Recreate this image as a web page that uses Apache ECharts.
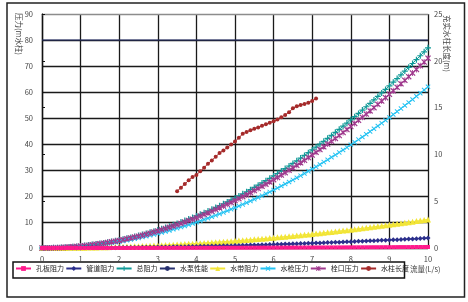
<!DOCTYPE html>
<html><head><meta charset="utf-8">
<script src="https://cdn.jsdelivr.net/npm/echarts@6/dist/echarts.min.js"></script>
<style>html,body{margin:0;padding:0;background:#fff}#c{width:468px;height:302px}</style>
</head><body><div id="c"></div><script>
const flow = [0,0.1,0.2,0.3,0.4,0.5,0.6,0.7,0.8,0.9,1,1.1,1.2,1.3,1.4,1.5,1.6,1.7,1.8,1.9,2,2.1,2.2,2.3,2.4,2.5,2.6,2.7,2.8,2.9,3,3.1,3.2,3.3,3.4,3.5,3.6,3.7,3.8,3.9,4,4.1,4.2,4.3,4.4,4.5,4.6,4.7,4.8,4.9,5,5.1,5.2,5.3,5.4,5.5,5.6,5.7,5.8,5.9,6,6.1,6.2,6.3,6.4,6.5,6.6,6.7,6.8,6.9,7,7.1,7.2,7.3,7.4,7.5,7.6,7.7,7.8,7.9,8,8.1,8.2,8.3,8.4,8.5,8.6,8.7,8.8,8.9,9,9.1,9.2,9.3,9.4,9.5,9.6,9.7,9.8,9.9,10];
const orificeLoss = [0,0,0,0,0,0,0,0,0,0,0,0,0.01,0.01,0.01,0.01,0.01,0.01,0.01,0.01,0.02,0.02,0.02,0.02,0.02,0.03,0.03,0.03,0.03,0.03,0.04,0.04,0.04,0.04,0.05,0.05,0.05,0.05,0.06,0.06,0.06,0.07,0.07,0.07,0.08,0.08,0.08,0.09,0.09,0.10,0.10,0.10,0.11,0.11,0.12,0.12,0.13,0.13,0.13,0.14,0.14,0.15,0.15,0.16,0.16,0.17,0.17,0.18,0.18,0.19,0.20,0.20,0.21,0.21,0.22,0.23,0.23,0.24,0.24,0.25,0.26,0.26,0.27,0.28,0.28,0.29,0.30,0.30,0.31,0.32,0.32,0.33,0.34,0.35,0.35,0.36,0.37,0.38,0.38,0.39,0.40];
const pipeLoss = [0,0,0,0,0.01,0.01,0.01,0.02,0.02,0.03,0.04,0.05,0.05,0.06,0.07,0.09,0.10,0.11,0.12,0.14,0.15,0.17,0.18,0.20,0.22,0.24,0.26,0.28,0.30,0.32,0.34,0.37,0.39,0.41,0.44,0.47,0.49,0.52,0.55,0.58,0.61,0.64,0.67,0.70,0.74,0.77,0.80,0.84,0.88,0.91,0.95,0.99,1.03,1.07,1.11,1.15,1.19,1.23,1.28,1.32,1.37,1.41,1.46,1.51,1.56,1.61,1.66,1.71,1.76,1.81,1.86,1.92,1.97,2.02,2.08,2.14,2.19,2.25,2.31,2.37,2.43,2.49,2.56,2.62,2.68,2.75,2.81,2.88,2.94,3.01,3.08,3.15,3.22,3.29,3.36,3.43,3.50,3.58,3.65,3.72,3.80];
const totalLoss = [0,0.01,0.03,0.07,0.12,0.19,0.28,0.38,0.49,0.62,0.77,0.93,1.11,1.30,1.51,1.73,1.97,2.23,2.49,2.78,3.08,3.40,3.73,4.07,4.44,4.81,5.21,5.61,6.04,6.48,6.93,7.40,7.88,8.39,8.90,9.43,9.98,10.54,11.12,11.71,12.32,12.94,13.58,14.24,14.91,15.59,16.29,17.01,17.74,18.49,19.25,20.03,20.82,21.63,22.45,23.29,24.15,25.02,25.90,26.80,27.72,28.65,29.60,30.56,31.54,32.53,33.54,34.57,35.60,36.66,37.73,38.82,39.92,41.03,42.17,43.31,44.48,45.65,46.85,48.06,49.28,50.52,51.77,53.05,54.33,55.63,56.95,58.28,59.63,60.99,62.37,63.76,65.17,66.60,68.04,69.49,70.96,72.45,73.95,75.47,77.00];
const pumpFlow = [0,10];
const pumpHead = [80,80];
const hoseLoss = [0,0,0,0.01,0.02,0.03,0.04,0.05,0.07,0.09,0.11,0.13,0.16,0.19,0.22,0.25,0.28,0.32,0.36,0.40,0.44,0.49,0.53,0.58,0.63,0.69,0.74,0.80,0.86,0.93,0.99,1.06,1.13,1.20,1.27,1.35,1.43,1.51,1.59,1.67,1.76,1.85,1.94,2.03,2.13,2.23,2.33,2.43,2.53,2.64,2.75,2.86,2.97,3.09,3.21,3.33,3.45,3.57,3.70,3.83,3.96,4.09,4.23,4.37,4.51,4.65,4.79,4.94,5.09,5.24,5.39,5.55,5.70,5.86,6.02,6.19,6.35,6.52,6.69,6.87,7.04,7.22,7.40,7.58,7.76,7.95,8.14,8.33,8.52,8.71,8.91,9.11,9.31,9.51,9.72,9.93,10.14,10.35,10.56,10.78,11.00];
const nozzlePressure = [0,0.01,0.02,0.06,0.10,0.16,0.22,0.30,0.40,0.50,0.62,0.75,0.89,1.05,1.22,1.40,1.59,1.79,2.01,2.24,2.48,2.73,3.00,3.28,3.57,3.88,4.19,4.52,4.86,5.21,5.58,5.96,6.35,6.75,7.17,7.60,8.04,8.49,8.95,9.43,9.92,10.42,10.94,11.46,12.00,12.56,13.12,13.70,14.28,14.89,15.50,16.13,16.76,17.42,18.08,18.76,19.44,20.14,20.86,21.58,22.32,23.07,23.83,24.61,25.40,26.20,27.01,27.83,28.67,29.52,30.38,31.25,32.14,33.04,33.95,34.88,35.81,36.76,37.72,38.69,39.68,40.68,41.69,42.71,43.75,44.80,45.86,46.93,48.01,49.11,50.22,51.34,52.48,53.62,54.78,55.96,57.14,58.34,59.54,60.77,62.00];
const hydrantPressure = [0,0.01,0.03,0.07,0.12,0.18,0.26,0.36,0.47,0.59,0.73,0.88,1.05,1.23,1.43,1.64,1.87,2.11,2.37,2.64,2.92,3.22,3.53,3.86,4.20,4.56,4.93,5.32,5.72,6.14,6.57,7.02,7.48,7.95,8.44,8.94,9.46,9.99,10.54,11.10,11.68,12.27,12.88,13.50,14.13,14.78,15.45,16.13,16.82,17.53,18.25,18.99,19.74,20.51,21.29,22.08,22.89,23.72,24.56,25.41,26.28,27.16,28.06,28.97,29.90,30.84,31.80,32.77,33.76,34.76,35.77,36.80,37.84,38.90,39.97,41.06,42.16,43.28,44.41,45.56,46.72,47.90,49.09,50.29,51.51,52.74,53.99,55.25,56.53,57.82,59.13,60.45,61.79,63.14,64.50,65.88,67.28,68.69,70.11,71.55,73.00];
const jetFlow = [3.5,3.6,3.7,3.8,3.9,4,4.1,4.2,4.3,4.4,4.5,4.6,4.7,4.8,4.9,5,5.1,5.2,5.3,5.4,5.5,5.6,5.7,5.8,5.9,6,6.1,6.2,6.3,6.4,6.5,6.6,6.7,6.8,6.9,7,7.1];
const jetLength = [6.06,6.45,6.84,7.23,7.59,7.80,8.19,8.58,9.01,9.36,9.75,10.14,10.43,10.74,11.06,11.38,11.77,12.2,12.38,12.59,12.73,12.87,13.05,13.23,13.37,13.55,13.72,13.97,14.22,14.5,14.93,15.14,15.29,15.39,15.53,15.71,15.96];
const seriesNames = ['孔板阻力','管道阻力','总阻力','水泵性能','水带阻力','水枪压力','栓口压力','水柱长度'];
const xTicks = [0,1,2,3,4,5,6,7,8,9,10];

const pair = (xa, ya) => xa.map((x, i) => [x, ya[i]]);
const PLUS = 'path://M4,0H6V4H10V6H6V10H4V6H0V4H4Z';
const CROSS = 'path://M0,1.4L1.4,0L5,3.6L8.6,0L10,1.4L6.4,5L10,8.6L8.6,10L5,6.4L1.4,10L0,8.6L3.6,5Z';
const STAR = 'path://M0,1.4L1.4,0L5,3.6L8.6,0L10,1.4L6.4,5L10,8.6L8.6,10L5,6.4L1.4,10L0,8.6L3.6,5Z M4.3,0H5.7V10H4.3Z';
const FONT = '"Noto Sans CJK SC", "Liberation Sans", sans-serif';

function mk(name, data, color, symbol, size, yIdx, z) {
  return {
    name, type: 'line', data, yAxisIndex: yIdx || 0, z: z || 2,
    symbol, symbolSize: size, showSymbol: symbol !== 'none',
    lineStyle: { color, width: 1 }, itemStyle: { color },
    emphasis: { disabled: true }, silent: true
  };
}

const chart = echarts.init(document.getElementById('c'), null, { renderer: 'canvas' });
chart.setOption({
  animation: false,
  backgroundColor: '#fff',
  textStyle: { fontFamily: FONT },
  grid: { left: 42, right: 40, top: 14, bottom: 54 },
  xAxis: [{
    type: 'value', min: 0, max: 10, interval: 1,
    axisLine: { show: true, lineStyle: { color: '#111', width: 1.2 } },
    axisTick: { show: false },
    axisLabel: { fontSize: 7.5, color: '#444', margin: 7, fontFamily: FONT,
      formatter: v => xTicks.includes(v) ? String(v) : '' },
    splitLine: { show: true, lineStyle: { color: '#1a1a1a', width: 1.3 } }
  }, {
    type: 'value', min: 0, max: 10, interval: 1, position: 'top',
    axisLine: { show: true, onZero: false, lineStyle: { color: '#8c8c8c', width: 1.3 } },
    axisTick: { show: false }, axisLabel: { show: false }, splitLine: { show: false }
  }],
  yAxis: [
    {
      type: 'value', min: 0, max: 90, interval: 10,
      axisLine: { show: true, lineStyle: { color: '#111', width: 1.2 } },
      axisTick: { show: false },
      axisLabel: { fontSize: 7.5, color: '#444', margin: 9, fontFamily: FONT },
      splitLine: { show: true, showMaxLine: false, lineStyle: { color: '#1a1a1a', width: 1.3 } }
    },
    {
      type: 'value', min: 0, max: 25, interval: 5, position: 'right',
      axisLine: { show: true, lineStyle: { color: '#111', width: 1.2 } },
      axisTick: { show: true, length: 3, lineStyle: { color: '#111' } },
      axisLabel: { fontSize: 7.5, color: '#444', margin: 6, fontFamily: FONT },
      splitLine: { show: false }
    }
  ],
  legend: {
    left: 15, top: 265, itemWidth: 15, itemHeight: 6, itemGap: 1.3,
    padding: 0,
    textStyle: { fontSize: 7, color: '#222', fontFamily: FONT },
    data: seriesNames
  },
  graphic: [
    { type: 'rect', shape: { x: 7, y: 3, width: 457.5, height: 294 }, style: { fill: null, stroke: '#222', lineWidth: 1.5 }, silent: true },
    { type: 'rect', shape: { x: 13, y: 262, width: 391.5, height: 16 }, style: { fill: null, stroke: '#111', lineWidth: 1.5 }, silent: true },
    { type: 'text', x: 410, y: 265, style: { text: '流量(L/s)', font: '7.5px ' + FONT, fill: '#444' }, silent: true },
    { type: 'text', x: 23, y: 13, rotation: -Math.PI / 2, style: { text: '压力(m水柱)', font: '7.5px ' + FONT, fill: '#444' }, silent: true },
    { type: 'text', x: 451, y: 15, rotation: -Math.PI / 2, style: { text: '充实水柱长度(m)', font: '7.5px ' + FONT, fill: '#444' }, silent: true }
  ],
  series: [
    mk(seriesNames[0], pair(flow, orificeLoss), '#ff1a8c', 'rect', 4, 0, 5),
    mk(seriesNames[1], pair(flow, pipeLoss), '#2b2f8c', 'diamond', 5, 0, 4),
    mk(seriesNames[2], pair(flow, totalLoss), '#109a98', PLUS, 6, 0, 3),
    mk(seriesNames[3], pair(pumpFlow, pumpHead), '#27306f', 'none', 0, 0, 3),
    mk(seriesNames[4], pair(flow, hoseLoss), '#f2e537', 'triangle', 6, 0, 3),
    mk(seriesNames[5], pair(flow, nozzlePressure), '#23c2f2', CROSS, 5, 0, 3),
    mk(seriesNames[6], pair(flow, hydrantPressure), '#a03a8e', STAR, 6, 0, 3),
    mk(seriesNames[7], pair(jetFlow, jetLength), '#a52a2a', 'circle', 4, 1, 6)
  ]
});
</script></body></html>
